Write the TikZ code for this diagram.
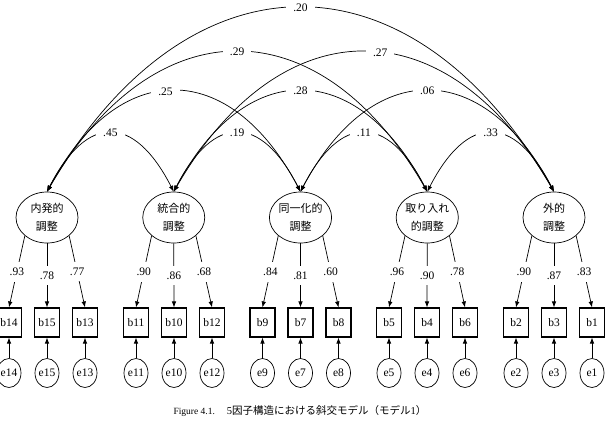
\documentclass[tikz,border=0pt]{standalone}
\usepackage{fontspec}
\setmainfont{Liberation Serif}
\newfontfamily\jpfont{Noto Sans CJK JP}
\usetikzlibrary{arrows.meta}
\usetikzlibrary{shapes.geometric}
\tikzset{
  factor/.style={ellipse,draw,line width=0.7pt,minimum width=62pt,
                 minimum height=51pt,inner sep=0pt,align=center,
                 font=\jpfont\fontsize{11}{18}\selectfont},
  item/.style={rectangle,draw,line width=1.1pt,minimum width=25pt,
               minimum height=29pt,inner sep=0pt,
               font=\fontsize{11.5}{13}\selectfont},
  errterm/.style={ellipse,draw,line width=0.7pt,minimum width=24pt,
                  minimum height=29pt,inner sep=0pt,
                  font=\fontsize{11.5}{13}\selectfont},
  loading/.style={>={Latex[length=6pt,width=4.5pt]},line width=0.7pt,->},
  errarrow/.style={>={Latex[length=6pt,width=4.5pt]},line width=0.7pt,->},
  corr/.style={>={Latex[length=6pt,width=4.5pt]},line width=0.7pt,<->},
  loadlabel/.style={fill=white,inner xsep=1pt,inner ysep=6pt,
                    font=\fontsize{11.5}{13}\selectfont},
  corrlabel/.style={fill=white,inner xsep=7pt,inner ysep=1pt,
                    font=\fontsize{11.5}{13}\selectfont},
  caption/.style={inner sep=0pt},
}

\begin{document}
\begin{tikzpicture}[x=1pt,y=-1pt]
  \useasboundingbox (0,0) rectangle (615,437);

  % latent factors
  \node[factor] (f1) at (47,217.5) {内発的\\調整};
  \node[factor] (f2) at (173.75,217.5) {統合的\\調整};
  \node[factor] (f3) at (300.5,217.5) {同一化的\\調整};
  \node[factor] (f4) at (427.25,217.5) {取り入れ\\的調整};
  \node[factor] (f5) at (554,217.5) {外的\\調整};

  % observed items with their error terms
  \foreach \n/\x in {14/9,15/47,13/85,11/136,10/174,12/212,
                     9/262.5,7/300.5,8/338.5,5/389,4/427,6/465,
                     2/516,3/554,1/592} {
    \node[item] (b\n) at (\x,322.5) {b\n};
    \node[errterm] (e\n) at (\x,373) {e\n};
    \draw[errarrow] (e\n) -- (b\n);
  }

  % factor loadings
  \foreach \f/\b/\a/\v in {1/14/south west/.93,1/15/south/.78,1/13/south east/.77,
                           2/11/south west/.90,2/10/south/.86,2/12/south east/.68,
                           3/9/south west/.84,3/7/south/.81,3/8/south east/.60,
                           4/5/south west/.96,4/4/south/.90,4/6/south east/.78,
                           5/2/south west/.90,5/3/south/.87,5/1/south east/.83} {
    \draw[loading] (f\f.\a) -- node[loadlabel] {\v} (b\b.north);
  }

  % correlations between factors
  \draw[corr] (f1.north) .. controls +(142,-245) and +(-142,-245) .. (f5.north)
      node[corrlabel,pos=0.5] {.20};
  \draw[corr] (f1.north) .. controls +(107.5,-186) and +(-107.5,-186) .. (f4.north)
      node[corrlabel,pos=0.5] {.29};
  \draw[corr] (f2.north) .. controls +(107.5,-186) and +(-107.5,-186) .. (f5.north)
      node[corrlabel,pos=0.54] {.27};
  \draw[corr] (f1.north) .. controls +(71,-134) and +(-71,-134) .. (f3.north)
      node[corrlabel,pos=0.47] {.25};
  \draw[corr] (f2.north) .. controls +(71,-134) and +(-71,-134) .. (f4.north)
      node[corrlabel,pos=0.5] {.28};
  \draw[corr] (f3.north) .. controls +(71,-134) and +(-71,-134) .. (f5.north)
      node[corrlabel,pos=0.5] {.06};
  \draw[corr] (f1.north) .. controls +(40,-78) and +(-40,-78) .. (f2.north)
      node[corrlabel,pos=0.5] {.45};
  \draw[corr] (f2.north) .. controls +(40,-78) and +(-40,-78) .. (f3.north)
      node[corrlabel,pos=0.5] {.19};
  \draw[corr] (f3.north) .. controls +(40,-78) and +(-40,-78) .. (f4.north)
      node[corrlabel,pos=0.5] {.11};
  \draw[corr] (f4.north) .. controls +(40,-78) and +(-40,-78) .. (f5.north)
      node[corrlabel,pos=0.5] {.33};

  \node[caption] (cap) at (300,411)
      {{\fontsize{9.5}{12}\selectfont Figure 4.1.}\hspace{12pt}{\fontsize{10.5}{12}\selectfont
       5{\jpfont 因子構造における斜交モデル（モデル}1{\jpfont ）}}};
\end{tikzpicture}
\end{document}
